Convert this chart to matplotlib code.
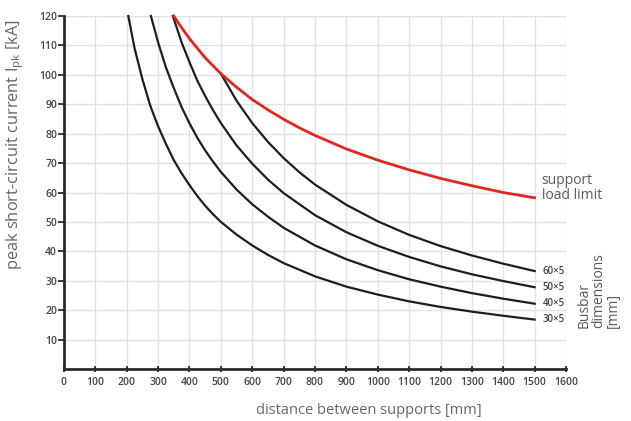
import numpy as np
import matplotlib
matplotlib.use('Agg')
import matplotlib.pyplot as plt

# values (distance in mm, peak current in kA)
x_30 = [205, 225, 250, 275, 300, 325, 350, 375, 400, 425, 450, 475, 500, 550, 600, 650, 700,
        800, 900, 1000, 1100, 1200, 1300, 1400, 1500]
y_30 = [120, 109, 98.5, 89.5, 82.5, 76.5, 71, 66.5, 62.5, 58.8, 55.5, 52.6, 50, 45.7, 42, 38.8,
        36, 31.5, 28, 25.3, 23, 21.1, 19.5, 18.1, 16.8]

x_40 = [277, 300, 325, 350, 375, 400, 425, 450, 475, 500, 550, 600, 650, 700, 800, 900, 1000,
        1100, 1200, 1300, 1400, 1500]
y_40 = [120, 111, 102.5, 95.5, 89, 83.5, 78.6, 74.3, 70.5, 67, 61, 56, 51.8, 48, 42, 37.3,
        33.6, 30.5, 28, 25.8, 23.9, 22.2]

x_50 = [347, 375, 400, 425, 450, 475, 500, 550, 600, 650, 700, 800, 900, 1000, 1100, 1200,
        1300, 1400, 1500]
y_50 = [120, 111, 104.3, 98, 92.8, 88, 83.6, 76, 69.8, 64.4, 59.8, 52.3, 46.5, 41.9, 38.1,
        34.9, 32.2, 29.9, 27.8]

x_60 = [500, 550, 600, 650, 700, 750, 800, 900, 1000, 1100, 1200, 1300, 1400, 1500]
y_60 = [100.4, 91.2, 83.6, 77.2, 71.7, 66.9, 62.7, 55.8, 50.2, 45.6, 41.8, 38.6, 35.8, 33.3]

x_red = [350, 375, 400, 450, 500, 550, 600, 650, 700, 750, 800, 900, 1000, 1100, 1200, 1300,
         1400, 1500]
y_red = [120, 116, 112.3, 105.8, 100.4, 95.8, 91.6, 88.1, 84.9, 82, 79.4, 74.8, 71, 67.7,
         64.8, 62.3, 60, 58.2]

busbars = ['30×5', '40×5', '50×5', '60×5']
xticks = list(range(0, 1700, 100))
yticks = list(range(10, 130, 10))

plt.rcParams['font.family'] = ['Open Sans', 'DejaVu Sans']
plt.rcParams['mathtext.fontset'] = 'custom'
plt.rcParams['mathtext.rm'] = 'Open Sans'

fig = plt.figure(figsize=(6.31, 4.21), dpi=100)
ax = fig.add_axes([0.1014, 0.1235, 0.7956, 0.8385])

ax.set_xlim(0, 1600)
ax.set_ylim(0, 120)
ax.set_xticks(xticks)
ax.set_yticks(yticks)
ax.grid(True, color='#dfe4ea', linewidth=1.0)
ax.set_axisbelow(True)

for s in ['top', 'right']:
    ax.spines[s].set_visible(False)
for s in ['left', 'bottom']:
    ax.spines[s].set_linewidth(2)
    ax.spines[s].set_color('#2b2b2b')

ax.tick_params(axis='x', direction='inout', length=5, width=1.3, color='#2b2b2b',
               labelsize=7.5, labelcolor='#444444', pad=3)
ax.tick_params(axis='y', direction='out', length=4, width=1.3, color='#2b2b2b',
               labelsize=7.5, labelcolor='#444444', pad=1)
for lab in ax.get_xticklabels() + ax.get_yticklabels():
    lab.set_fontweight('semibold')

series = [(x_30, y_30), (x_40, y_40), (x_50, y_50), (x_60, y_60)]
for (xs, ys), name in zip(series, busbars):
    ax.plot(xs, ys, color='#1e1e1e', linewidth=1.6, solid_joinstyle='round', clip_on=False)
    ax.text(xs[-1] + 25, ys[-1], name, fontsize=7, fontweight='semibold', color='#444444',
            va='center', ha='left', clip_on=False)

ax.plot(x_red, y_red, color='#e3271f', linewidth=2.0, solid_joinstyle='round', clip_on=False)
ax.text(1522, 61.5, 'support\nload limit', fontsize=10, color='#5a5a5a',
        va='center', ha='left', linespacing=1.0)

ax.text(1634, 14, 'Busbar\ndimensions\n[mm]', rotation=90, fontsize=10, color='#5a5a5a',
        ha='left', va='bottom', multialignment='left', linespacing=0.95, clip_on=False)

fig.text(0.585, 0.025, 'distance between supports [mm]', fontsize=10.5, color='#666666',
         ha='center', va='center')
fig.text(0.024, 0.656, r'peak short-circuit current I$_{\mathrm{pk}}$ [kA]', fontsize=11.8,
         color='#666666', ha='center', va='center', rotation=90)

fig.savefig('out.png', dpi=100)
